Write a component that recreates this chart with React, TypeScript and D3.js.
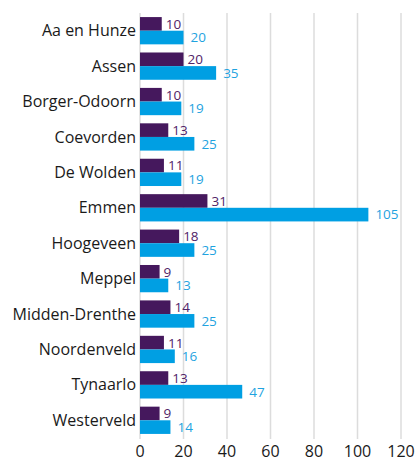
import { useEffect, useRef } from "react";
import * as d3 from "d3";

const gemeenten = [
  "Aa en Hunze",
  "Assen",
  "Borger-Odoorn",
  "Coevorden",
  "De Wolden",
  "Emmen",
  "Hoogeveen",
  "Meppel",
  "Midden-Drenthe",
  "Noordenveld",
  "Tynaarlo",
  "Westerveld",
];
const serieA = [10, 20, 10, 13, 11, 31, 18, 9, 14, 11, 13, 9];
const serieB = [20, 35, 19, 25, 19, 105, 25, 13, 25, 16, 47, 14];
const ticks = [0, 20, 40, 60, 80, 100, 120];

const W = 416;
const H = 459;
const FONT = "'Open Sans', 'Noto Sans', sans-serif";

export default function App() {
  const ref = useRef<SVGSVGElement>(null);

  useEffect(() => {
    const svg = d3.select(ref.current);
    svg.selectAll("*").remove();

    const x = d3.scaleLinear().domain([0, 120]).range([140, 401]);
    const y = d3.scaleBand().domain(gemeenten).range([13, 438]).paddingInner(0.23).paddingOuter(0.115);
    const sub = d3.scaleBand().domain(["a", "b"]).range([0, y.bandwidth()]);

    // gridlines
    svg
      .append("g")
      .selectAll("line")
      .data(ticks)
      .enter()
      .append("line")
      .attr("x1", (d) => x(d))
      .attr("x2", (d) => x(d))
      .attr("y1", 13)
      .attr("y2", 439)
      .attr("stroke", "#dcdcdc")
      .attr("stroke-width", 1.5);

    // tick labels
    svg
      .append("g")
      .selectAll("text")
      .data(ticks)
      .enter()
      .append("text")
      .attr("x", (d) => x(d))
      .attr("y", 451)
      .attr("dy", "0.36em")
      .attr("text-anchor", "middle")
      .style("font-family", FONT)
      .style("font-size", 16)
      .style("fill", "#1a1a1a")
      .text((d) => d);

    // category labels
    svg
      .append("g")
      .selectAll("text")
      .data(gemeenten)
      .enter()
      .append("text")
      .attr("x", 136)
      .attr("y", (d) => y(d)! + y.bandwidth() / 2)
      .attr("dy", "0.35em")
      .attr("text-anchor", "end")
      .style("font-family", FONT)
      .style("font-size", 16)
      .style("fill", "#1a1a1a")
      .text((d) => d);

    const series = [
      { key: "a", values: serieA, bar: "#45185d", label: "#512468", gap: 4 },
      { key: "b", values: serieB, bar: "#009fe3", label: "#1fa3df", gap: 7 },
    ];

    series.forEach((s) => {
      const g = svg.append("g");
      g.selectAll("rect")
        .data(s.values)
        .enter()
        .append("rect")
        .attr("x", x(0))
        .attr("y", (_, i) => y(gemeenten[i])! + sub(s.key)!)
        .attr("width", (d) => x(d) - x(0))
        .attr("height", sub.bandwidth())
        .attr("fill", s.bar);
      g.selectAll("text")
        .data(s.values)
        .enter()
        .append("text")
        .attr("x", (d) => x(d) + s.gap)
        .attr("y", (_, i) => y(gemeenten[i])! + sub(s.key)! + sub.bandwidth() / 2)
        .attr("dy", "0.36em")
        .style("font-family", FONT)
        .style("font-size", 13.5)
        .style("fill", s.label)
        .text((d) => d);
    });
  }, []);

  return (
    <svg
      ref={ref}
      width={W}
      height={H}
      style={{ position: "absolute", left: 0, top: 0, background: "#fff" }}
    />
  );
}
